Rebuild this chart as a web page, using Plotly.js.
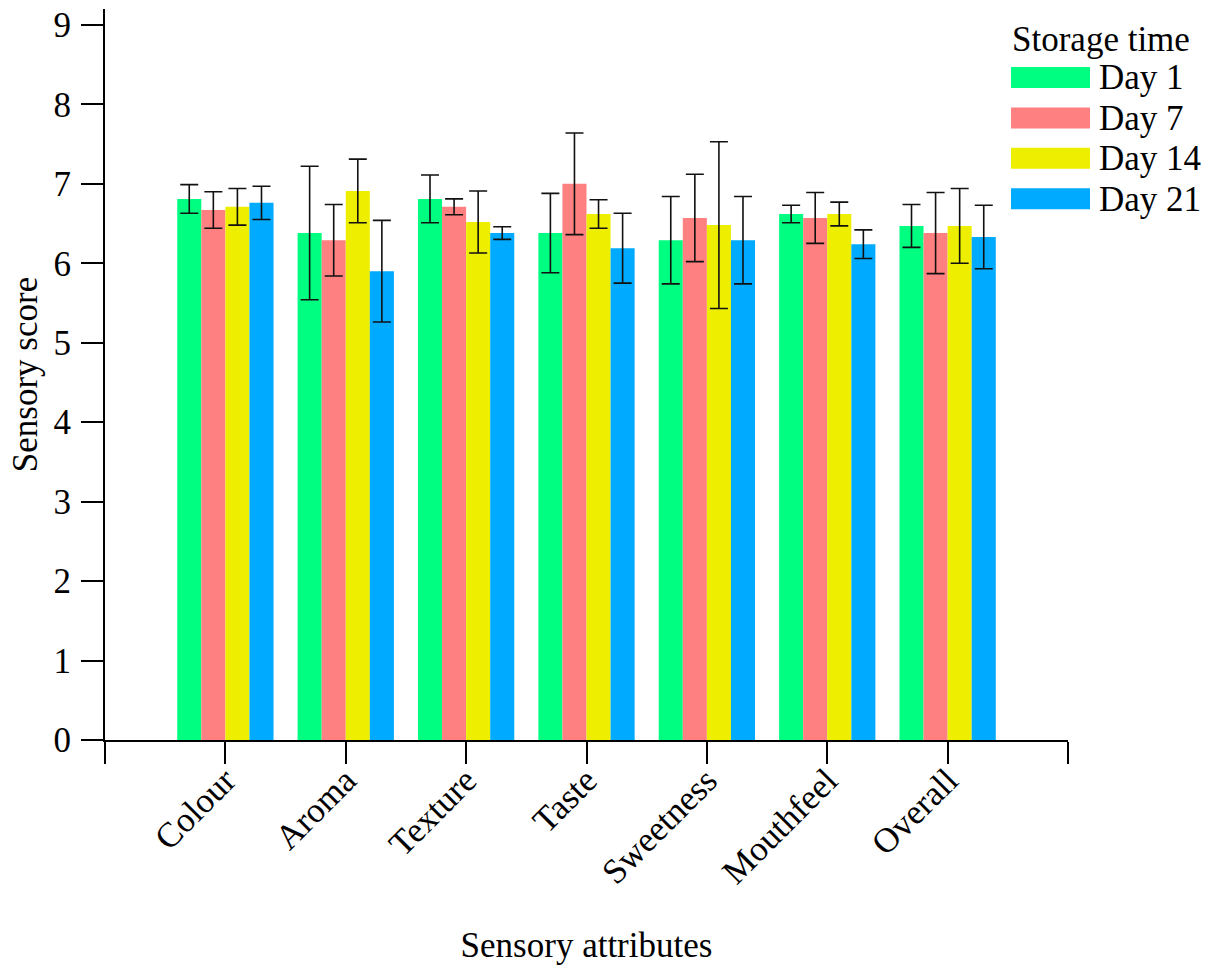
<!DOCTYPE html>
<html>
<head>
<meta charset="utf-8">
<script src="https://cdn.plot.ly/plotly-3.0.1.min.js"></script>
<style>html,body{margin:0;padding:0;background:#fff;}#chart{width:1215px;height:965px;}</style>
</head>
<body>
<div id="chart"></div>
<script>
const categories = ["Colour", "Aroma", "Texture", "Taste", "Sweetness", "Mouthfeel", "Overall"];
const seriesNames = ["Day 1", "Day 7", "Day 14", "Day 21"];
const day1 = [6.81, 6.38, 6.81, 6.38, 6.29, 6.62, 6.47];
const day7 = [6.67, 6.29, 6.71, 7.00, 6.57, 6.57, 6.38];
const day14 = [6.71, 6.91, 6.52, 6.62, 6.48, 6.62, 6.47];
const day21 = [6.76, 5.90, 6.38, 6.19, 6.29, 6.24, 6.33];
const err1 = [0.18, 0.84, 0.30, 0.50, 0.55, 0.11, 0.27];
const err7 = [0.23, 0.45, 0.10, 0.64, 0.55, 0.32, 0.51];
const err14 = [0.23, 0.40, 0.39, 0.18, 1.05, 0.15, 0.47];
const err21 = [0.21, 0.64, 0.08, 0.44, 0.55, 0.18, 0.40];
const yTicks = [0, 1, 2, 3, 4, 5, 6, 7, 8, 9];
const legendTitle = "Storage time";

const colors = ["#00FF80", "#FF8080", "#EEEE00", "#00AAFF"];
const values = [day1, day7, day14, day21];
const errs = [err1, err7, err14, err21];
const FONT = "Liberation Serif";
const xIdx = categories.map((c, i) => i);

const traces = values.map((v, k) => ({
  type: "bar",
  name: seriesNames[k],
  x: xIdx,
  y: v,
  marker: {color: colors[k], line: {width: 0}},
  error_y: {type: "data", array: errs[k], visible: true, color: "#111", thickness: 1.6, width: 9},
  showlegend: false,
  hoverinfo: "x+y"
}));

// plot area in pixels
const L = 105, R = 1068, T = 9, B = 740;
const px = p => (p - L) / (R - L);
const py = p => (B - p) / (B - T);

const shapes = [];
const annotations = [];
annotations.push({xref: "paper", yref: "paper", x: px(1010), y: py(40), xanchor: "left", yanchor: "middle",
  text: legendTitle, showarrow: false, font: {family: FONT, size: 35, color: "#000"}});
seriesNames.forEach((n, k) => {
  const top = 67 + k * 40.4;
  shapes.push({type: "rect", xref: "paper", yref: "paper", x0: px(1011), x1: px(1090), y0: py(top), y1: py(top + 21),
    fillcolor: colors[k], line: {width: 0}});
  annotations.push({xref: "paper", yref: "paper", x: px(1097), y: py(top + 11), xanchor: "left", yanchor: "middle",
    text: n, showarrow: false, font: {family: FONT, size: 35, color: "#000"}});
});

const layout = {
  width: 1215, height: 965,
  margin: {l: L, r: 1215 - R, t: T, b: 965 - B, pad: 0},
  paper_bgcolor: "#fff", plot_bgcolor: "#fff",
  font: {family: FONT, size: 35, color: "#000"},
  barmode: "group", bargap: 0.2, bargroupgap: 0,
  showlegend: false,
  xaxis: {
    range: [-1, 7], tickmode: "array",
    tickvals: [-1].concat(xIdx, [7]),
    ticktext: [""].concat(categories, [""]),
    tickangle: -45, ticks: "outside", ticklen: 22, tickwidth: 2, tickcolor: "#000",
    showline: true, linecolor: "#000", linewidth: 2, showgrid: false, zeroline: false,
    ticklabelstandoff: -18,
    tickfont: {family: FONT, size: 35, color: "#000"},
    title: {text: "Sensory attributes", font: {family: FONT, size: 35, color: "#000"}, standoff: 44}
  },
  yaxis: {
    range: [0, 9.2], tickmode: "array", tickvals: yTicks,
    ticks: "outside", ticklen: 22, tickwidth: 2, tickcolor: "#000",
    showline: true, linecolor: "#000", linewidth: 2, showgrid: false, zeroline: false,
    ticklabelstandoff: 3,
    tickfont: {family: FONT, size: 35, color: "#000"},
    title: {text: "Sensory score", font: {family: FONT, size: 35, color: "#000"}, standoff: 5}
  },
  shapes: shapes,
  annotations: annotations
};

Plotly.newPlot("chart", traces, layout, {displayModeBar: false, staticPlot: false});
</script>
</body>
</html>
